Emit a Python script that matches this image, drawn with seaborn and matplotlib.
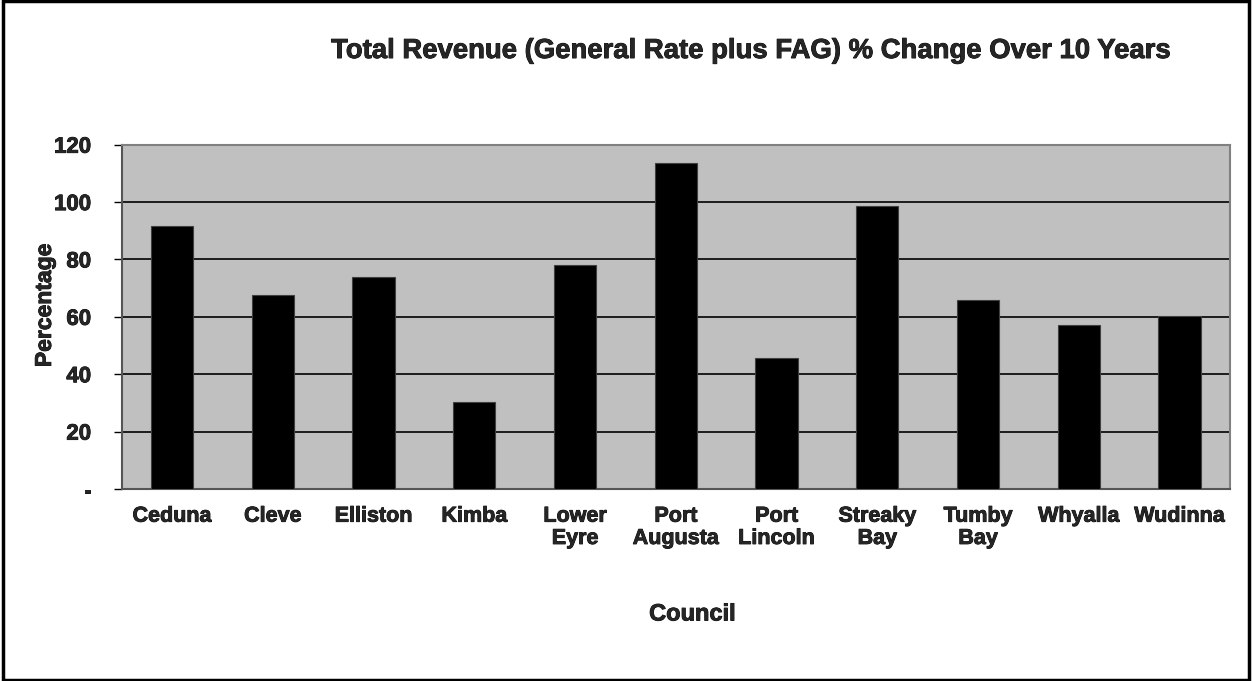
import matplotlib
matplotlib.use("Agg")
import matplotlib.pyplot as plt
import matplotlib.patheffects as pe
import seaborn as sns
import pandas as pd
from matplotlib.patches import Rectangle

councils = ["Ceduna", "Cleve", "Elliston", "Kimba", "Lower\nEyre", "Port\nAugusta",
            "Port\nLincoln", "Streaky\nBay", "Tumby\nBay", "Whyalla", "Wudinna"]
pct_change = [91.5, 67.7, 73.8, 30.4, 78.0, 113.7, 45.7, 98.7, 66.0, 57.3, 60.4]
y_ticks = [0, 20, 40, 60, 80, 100, 120]
y_tick_labels = ["-", "20", "40", "60", "80", "100", "120"]

sns.set_style("white")
plt.rcParams["font.family"] = ["Liberation Sans", "DejaVu Sans"]
plt.rcParams["font.weight"] = "bold"

heavy = [pe.withStroke(linewidth=0.6, foreground="black")]

df = pd.DataFrame({"Council": councils, "Percentage": pct_change})

fig = plt.figure(figsize=(12.52, 6.81), dpi=100)
ax = fig.add_axes([0.0972, 0.2819, 0.8852, 0.5056])
ax.set_facecolor("#C0C0C0")

sns.barplot(data=df, x="Council", y="Percentage", color="black", width=0.42,
            edgecolor="#404040", linewidth=0.8, saturation=1, ax=ax, zorder=3)

ax.set_ylim(0, 120)
ax.set_xlim(-0.5, len(councils) - 0.5)
ax.set_yticks(y_ticks)
ax.set_yticklabels(y_tick_labels, fontsize=16, fontweight="bold")
ax.yaxis.grid(True, color="black", linewidth=1.2, zorder=1)
ax.set_axisbelow(True)

ax.set_xticks(range(len(councils)))
ax.set_xticklabels(councils, fontsize=15.5, fontweight="bold", linespacing=1.08)
ax.set_xticks([i - 0.5 for i in range(len(councils) + 1)], minor=True)
ax.tick_params(axis="x", which="major", length=0, pad=12)
ax.tick_params(axis="x", which="minor", length=6, width=1, color="black", direction="out")
ax.tick_params(axis="y", which="major", length=6, width=1, color="black", direction="out", pad=16)
ax.tick_params(bottom=True, left=True)
for lbl in ax.get_xticklabels() + ax.get_yticklabels():
    lbl.set_path_effects(heavy)

for s in ["top", "right", "left", "bottom"]:
    ax.spines[s].set_visible(True)
    ax.spines[s].set_color("#808080")
    ax.spines[s].set_linewidth(1.5)
ax.spines["left"].set_color("#555555")
ax.spines["bottom"].set_color("#555555")

ax.set_xlabel("")
ax.set_ylabel("")
fig.text(0.0355, 0.5514, "Percentage", fontsize=16.5, fontweight="bold", rotation=90,
         ha="center", va="center", path_effects=heavy)
fig.text(0.553, 0.0984, "Council", fontsize=17, fontweight="bold", ha="center",
         va="center", path_effects=heavy)
fig.text(0.600, 0.9148, "Total Revenue (General Rate plus FAG) % Change Over 10 Years",
         fontsize=19.8, fontweight="bold", ha="center", va="baseline", path_effects=heavy)

fig.patches.append(Rectangle((0.002, 0.002), 0.996, 0.996, transform=fig.transFigure,
                             fill=False, edgecolor="black", linewidth=2.5))

fig.savefig("out.png", dpi=100)
